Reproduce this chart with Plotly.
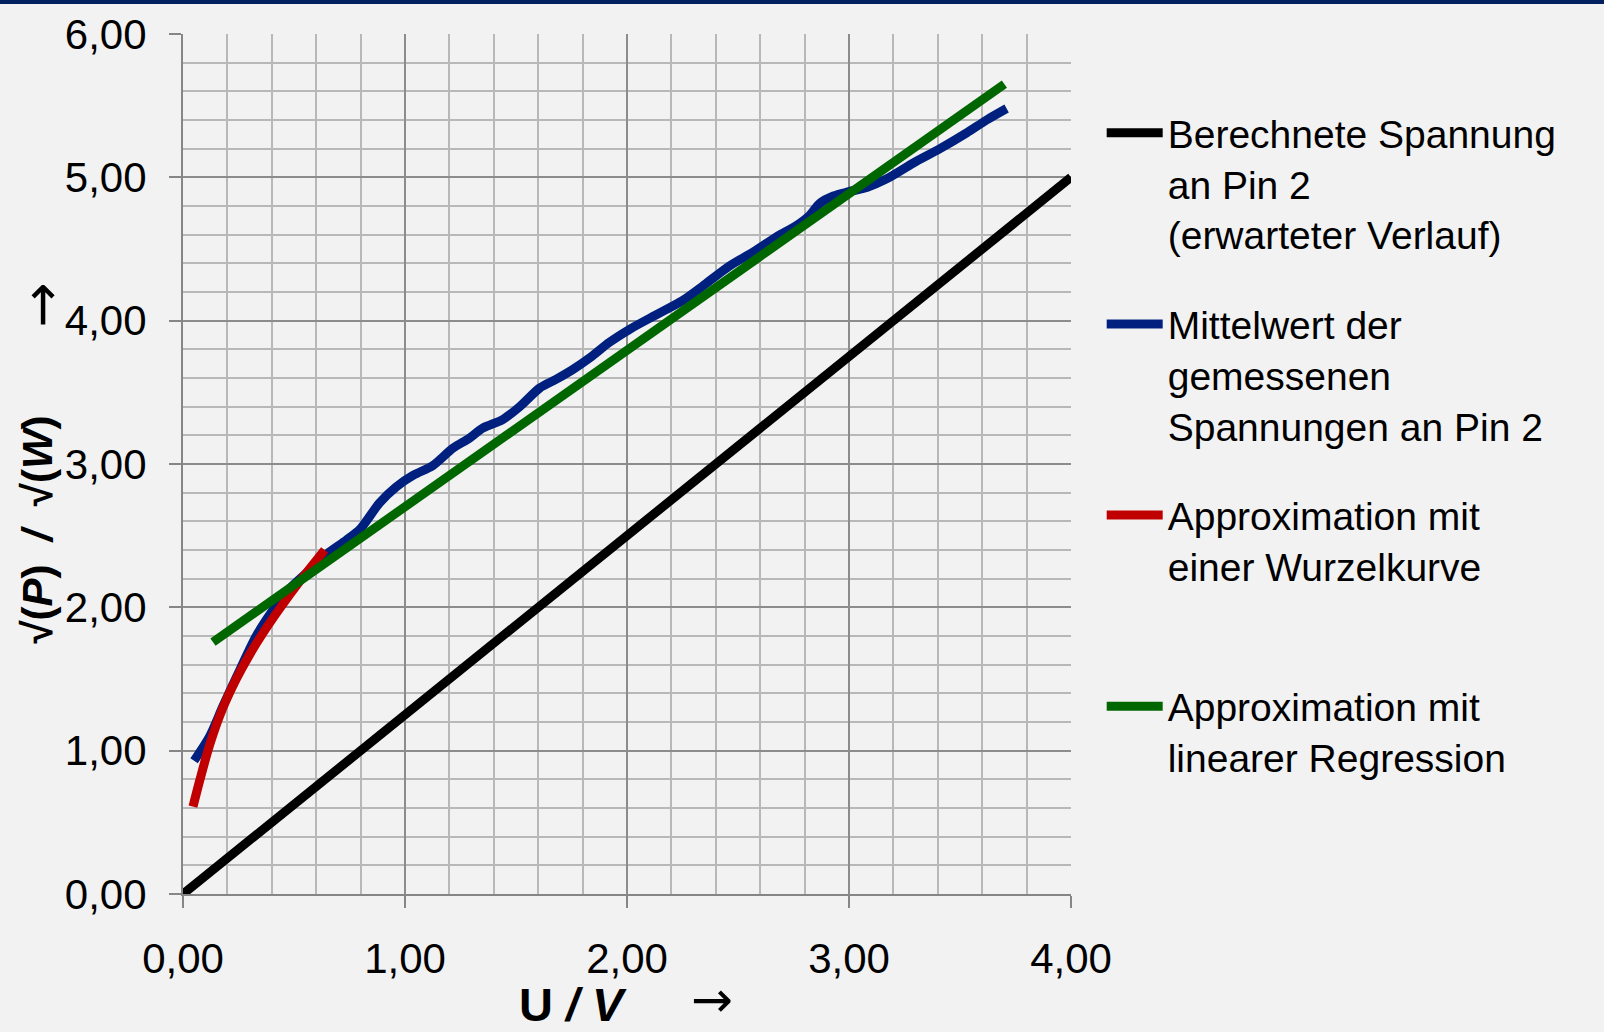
import plotly.graph_objects as go

# ---------------- data ----------------
black_x = [0.0, 4.0]
black_y = [0.0, 5.0]

blue_x = [0.05, 0.12, 0.18, 0.255, 0.33, 0.405, 0.48, 0.556, 0.646, 0.736, 0.80, 0.886,
          0.96, 1.036, 1.126, 1.216, 1.29, 1.35, 1.44, 1.517, 1.607, 1.68, 1.757, 1.832,
          1.922, 2.012, 2.13, 2.25, 2.34, 2.46, 2.57, 2.69, 2.76, 2.82, 2.87, 2.93, 3.00,
          3.08, 3.17, 3.29, 3.41, 3.53, 3.62, 3.71]
blue_y = [0.93, 1.10, 1.31, 1.56, 1.80, 1.98, 2.13, 2.24, 2.37, 2.47, 2.55, 2.73,
          2.84, 2.92, 2.99, 3.11, 3.18, 3.25, 3.31, 3.40, 3.53, 3.59, 3.66, 3.74,
          3.85, 3.94, 4.04, 4.14, 4.24, 4.38, 4.48, 4.60, 4.66, 4.73, 4.82, 4.87, 4.90,
          4.93, 4.99, 5.10, 5.20, 5.31, 5.40, 5.48]

red_x = [0.045, 0.075, 0.12, 0.18, 0.24, 0.30, 0.36, 0.435, 0.53, 0.638]
red_y = [0.61, 0.79, 1.04, 1.30, 1.50, 1.67, 1.82, 1.99, 2.19, 2.40]

green_x = [0.135, 3.70]
green_y = [1.757, 5.65]

series_names = [
    "Berechnete Spannung<br>an Pin 2<br>(erwarteter Verlauf)",
    "Mittelwert der<br>gemessenen<br>Spannungen an Pin 2",
    "Approximation mit<br>einer Wurzelkurve<br> ",
    "Approximation mit<br>linearer Regression<br> ",
]
series_colors = ["#000000", "#00207f", "#c00000", "#006600"]

x_tickvals = [0, 1, 2, 3, 4]
x_ticktext = ["0,00", "1,00", "2,00", "3,00", "4,00"]
y_tickvals = [0, 1, 2, 3, 4, 5, 6]
y_ticktext = ["0,00", "1,00", "2,00", "3,00", "4,00", "5,00", "6,00"]

# ---------------- figure ----------------
fig = go.Figure()
series = [(black_x, black_y, "linear"), (blue_x, blue_y, "spline"),
          (red_x, red_y, "spline"), (green_x, green_y, "linear")]
for i, (sx, sy, shape) in enumerate(series):
    line = dict(color=series_colors[i], width=9, shape=shape)
    if shape == "spline":
        line["smoothing"] = 0.8
    fig.add_trace(go.Scatter(x=sx, y=sy, mode="lines", name=series_names[i],
                             legendgroup="g%d" % i, line=line))

L, R, T, B = 183.3, 1071.3, 34.0, 894.3
W_PX, H_PX = R - L, B - T


def px(xp):
    return (xp - L) / W_PX


def py(yp):
    return (B - yp) / H_PX


axis_common = dict(
    showgrid=True, gridcolor="#8c8c8c", gridwidth=2,
    showline=True, linecolor="#868686", linewidth=2, mirror=False,
    ticks="outside", ticklen=12, tickwidth=2, tickcolor="#868686",
    tickfont=dict(size=42, color="#000000"),
    zeroline=False,
)

fig.update_xaxes(range=[0, 4], tickvals=x_tickvals, ticktext=x_ticktext,
                 minor=dict(dtick=0.2, tick0=0, showgrid=True, gridcolor="#b8b8b8", gridwidth=2, ticks=""),
                 ticklabelstandoff=15, **axis_common)
fig.update_yaxes(range=[0, 6], tickvals=y_tickvals, ticktext=y_ticktext,
                 minor=dict(dtick=0.2, tick0=0, showgrid=True, gridcolor="#b8b8b8", gridwidth=2, ticks=""),
                 ticklabelstandoff=14, **axis_common)

NB = "\u00a0"
fig.update_layout(
    width=1604, height=1032,
    margin=dict(l=L, r=1604 - R, t=T, b=1032 - B, autoexpand=False),
    paper_bgcolor="#f2f2f2", plot_bgcolor="#f2f2f2",
    font=dict(family="Liberation Sans, Arial, sans-serif", color="#000000"),
    showlegend=True,
    legend=dict(
        x=px(1102), xanchor="left", y=py(101), yanchor="top",
        font=dict(size=39, color="#000000"),
        itemwidth=56, valign="top", bgcolor="rgba(0,0,0,0)", borderwidth=0,
        traceorder="grouped", tracegroupgap=36,
    ),
    shapes=[dict(type="rect", xref="paper", yref="paper",
                 x0=px(-2), x1=px(1606), y0=py(4), y1=py(-2),
                 fillcolor="#002060", line=dict(width=0), layer="above")],
    annotations=[
        dict(text="<b>√(<i>P</i>)" + NB * 2 + "<i>/</i>" + NB * 2 + "√(<i>W</i>)</b>", textangle=-90,
             xref="paper", yref="paper", x=px(38), y=py(530),
             xanchor="center", yanchor="middle", showarrow=False,
             font=dict(size=42, color="#000000")),
        dict(text="→", textangle=-90, xref="paper", yref="paper", x=px(42), y=py(305),
             xanchor="center", yanchor="middle", showarrow=False,
             font=dict(size=54, color="#000000", family="DejaVu Sans")),
        dict(text="<b>U <i>/ V</i></b>", xref="paper", yref="paper", x=px(573), y=py(1005),
             xanchor="center", yanchor="middle", showarrow=False,
             font=dict(size=47, color="#000000")),
        dict(text="→", xref="paper", yref="paper", x=px(712), y=py(1000),
             xanchor="center", yanchor="middle", showarrow=False,
             font=dict(size=50, color="#000000", family="DejaVu Sans")),
    ],
)

fig.write_html("out.html", config={"displayModeBar": False},
               post_script="document.body.style.margin='0px';document.body.style.background='#f2f2f2';")
